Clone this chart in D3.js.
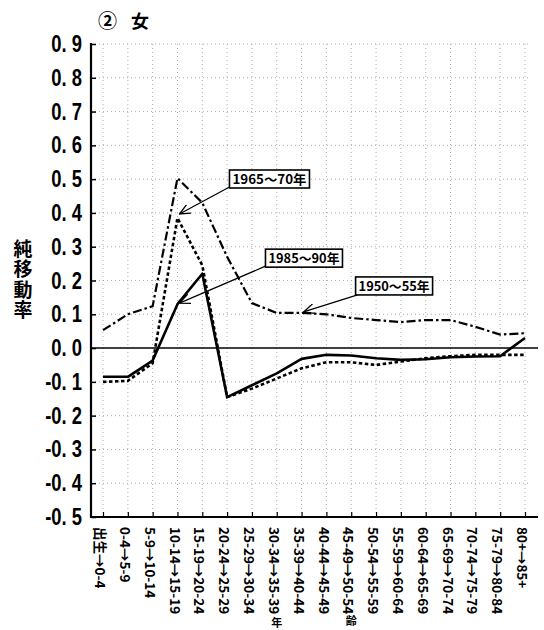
<!DOCTYPE html>
<html><head><meta charset="utf-8">
<script src="https://cdn.jsdelivr.net/npm/d3@7"></script>
<style>
html,body{margin:0;padding:0;background:#fff;}
svg{display:block;}
</style></head>
<body>
<svg id="c" width="544" height="630"></svg>
<script>
// ---- data ----
const categories = ["出生→0-4","0-4→5-9","5-9→10-14","10-14→15-19","15-19→20-24","20-24→25-29","25-29→30-34","30-34→35-39","35-39→40-44","40-44→45-49","45-49→50-54","50-54→55-59","55-59→60-64","60-64→65-69","65-69→70-74","70-74→75-79","75-79→80-84","80+→85+"];
const series1950 = [0.053, 0.10, 0.124, 0.503, 0.43, 0.27, 0.133, 0.104, 0.104, 0.10, 0.089, 0.083, 0.077, 0.083, 0.083, 0.063, 0.04, 0.044];
const series1965 = [-0.10, -0.097, -0.045, 0.385, 0.245, -0.145, -0.12, -0.09, -0.06, -0.042, -0.042, -0.05, -0.04, -0.03, -0.024, -0.02, -0.02, -0.02];
const series1985 = [-0.085, -0.085, -0.037, 0.13, 0.22, -0.145, -0.11, -0.075, -0.032, -0.02, -0.022, -0.03, -0.035, -0.033, -0.027, -0.025, -0.024, 0.03];
const seriesNames = ["1950～55年", "1965～70年", "1985～90年"];
const yTickValues = [0.9, 0.8, 0.7, 0.6, 0.5, 0.4, 0.3, 0.2, 0.1, 0.0, -0.1, -0.2, -0.3, -0.4, -0.5];
const title = "② 女";
const yTitle = "純移動率";
const xTitle = ["年", "齢"];

(function () {
// ---- layout ----
const svg = d3.select("#c");
const pL = 91, pR = 538, pT = 44, pB = 517;
const x = d3.scalePoint().domain(categories).range([103, 525]);
const y = d3.scaleLinear().domain([-0.5, 0.9]).range([pB, pT]);
const fontSans = "'Liberation Sans', Arial, sans-serif";
const fontCJK = "'Noto Sans CJK JP', sans-serif";

// grid
const grid = svg.append("g").attr("stroke", "#555").attr("stroke-width", 0.8)
  .attr("stroke-dasharray", "1,3").attr("opacity", 0.6);
grid.selectAll("line.h").data(yTickValues.filter(d => d !== 0 && d !== -0.5)).join("line")
  .attr("x1", pL).attr("x2", pR - 8).attr("y1", d => y(d)).attr("y2", d => y(d));
grid.selectAll("line.v").data(categories).join("line")
  .attr("x1", d => x(d)).attr("x2", d => x(d)).attr("y1", pT).attr("y2", pB);

// y axis
const yAxis = d3.axisRight(y).tickValues(yTickValues).tickSize(5).tickFormat("");
const gy = svg.append("g").attr("transform", `translate(${pL},0)`).call(yAxis);
gy.select(".domain").remove();
gy.selectAll(".tick line").attr("stroke", "#000").attr("stroke-width", 1.5);
svg.append("line").attr("x1", pL).attr("x2", pL).attr("y1", pT - 1).attr("y2", pB + 1)
  .attr("stroke", "#000").attr("stroke-width", 2.2);

// y tick labels
svg.append("g").selectAll("text").data(yTickValues).join("text")
  .attr("transform", d => `translate(82,${y(d) + 8}) scale(0.8,1)`)
  .attr("text-anchor", "end")
  .attr("font-family", fontSans).attr("font-weight", "bold").attr("font-size", 23)
  .text(d => d.toFixed(1).replace(".", ". "));

// x axis
const xAxis = d3.axisTop(x).tickSize(5).tickFormat("");
const gx = svg.append("g").attr("transform", `translate(0,${pB})`).call(xAxis);
gx.select(".domain").remove();
gx.selectAll(".tick line").attr("stroke", "#000").attr("stroke-width", 1.2);
svg.append("line").attr("x1", pL - 1).attr("x2", pR).attr("y1", pB).attr("y2", pB)
  .attr("stroke", "#000").attr("stroke-width", 2.2);

// zero line
svg.append("line").attr("x1", pL).attr("x2", pR).attr("y1", y(0)).attr("y2", y(0))
  .attr("stroke", "#000").attr("stroke-width", 1.5);

// x labels (rotated)
svg.append("g").selectAll("text").data(categories).join("text")
  .attr("transform", d => `translate(${x(d) - 3},527) rotate(90)`)
  .attr("dy", "0.36em")
  .attr("font-family", fontCJK).attr("font-weight", "bold").attr("font-size", 13.5)
  .text(d => d);

// x title
svg.append("text").attr("x", x(categories[7])).attr("y", 627).attr("text-anchor", "middle")
  .attr("font-family", fontCJK).attr("font-weight", "bold").attr("font-size", 11).text(xTitle[0]);
svg.append("text").attr("x", x(categories[10])).attr("y", 625).attr("text-anchor", "middle")
  .attr("font-family", fontCJK).attr("font-weight", "bold").attr("font-size", 11).text(xTitle[1]);

// title
const tparts = title.split(" ");
const tt = svg.append("text").attr("y", 28).attr("font-family", fontCJK).attr("font-weight", "bold").attr("font-size", 18);
tt.append("tspan").attr("x", 98).attr("font-size", 19).text(tparts[0]);
tt.append("tspan").attr("x", 131).text(tparts[1]);

// y title (vertical, single text)
svg.append("text").attr("x", 23).attr("y", 239)
  .attr("writing-mode", "vertical-rl").attr("text-orientation", "upright")
  .attr("font-family", fontCJK).attr("font-weight", "bold").attr("font-size", 19)
  .attr("letter-spacing", 1.5)
  .text(yTitle);

// lines
const line = d3.line().x((d, i) => x(categories[i])).y(d => y(d));
svg.append("path").datum(series1950).attr("d", line).attr("fill", "none")
  .attr("stroke", "#000").attr("stroke-width", 2.2).attr("stroke-dasharray", "9,3,2.5,3");
svg.append("path").datum(series1965).attr("d", line).attr("fill", "none")
  .attr("stroke", "#000").attr("stroke-width", 2.6).attr("stroke-dasharray", "3.5,2.5");
svg.append("path").datum(series1985).attr("d", line).attr("fill", "none")
  .attr("stroke", "#000").attr("stroke-width", 2.6).attr("stroke-linejoin", "round");

// annotations
const defs = svg.append("defs");
defs.append("marker").attr("id", "ah").attr("viewBox", "0 0 12 10").attr("refX", 11).attr("refY", 5)
  .attr("markerWidth", 12).attr("markerHeight", 10).attr("markerUnits", "userSpaceOnUse").attr("orient", "auto")
  .append("path").attr("d", "M0,0 L11,5 L0,10").attr("fill", "none").attr("stroke", "#000").attr("stroke-width", 1.3);

const annotations = [
  {name: seriesNames[1], series: series1965, idx: 3, tdx: 2, tdy: -4, bx: 52, by: -48, w: 80, h: 18, sx: 0, sy: 17},
  {name: seriesNames[2], series: series1985, idx: 3, tdx: 2, tdy: -1, bx: 88, by: -55, w: 77, h: 18, sx: 0, sy: 17},
  {name: seriesNames[0], series: series1950, idx: 8, tdx: 2, tdy: -1, bx: 54, by: -36, w: 77, h: 18, sx: 2, sy: 18}
];
annotations.forEach(a => {
  const px = x(categories[a.idx]), py = y(a.series[a.idx]);
  const bx = px + a.bx, by = py + a.by;
  svg.append("line").attr("x1", bx + a.sx).attr("y1", by + a.sy).attr("x2", px + a.tdx).attr("y2", py + a.tdy)
    .attr("stroke", "#000").attr("stroke-width", 1.2).attr("marker-end", "url(#ah)");
  svg.append("rect").attr("x", bx).attr("y", by).attr("width", a.w).attr("height", a.h)
    .attr("fill", "#fff").attr("stroke", "#000").attr("stroke-width", 1.6);
  svg.append("text").attr("x", bx + a.w / 2).attr("y", by + a.h / 2 + 5).attr("text-anchor", "middle")
    .attr("font-family", fontCJK).attr("font-weight", "bold").attr("font-size", 13)
    .attr("textLength", a.w - 6).attr("lengthAdjust", "spacingAndGlyphs")
    .text(a.name);
});
})();
</script>
</body></html>
